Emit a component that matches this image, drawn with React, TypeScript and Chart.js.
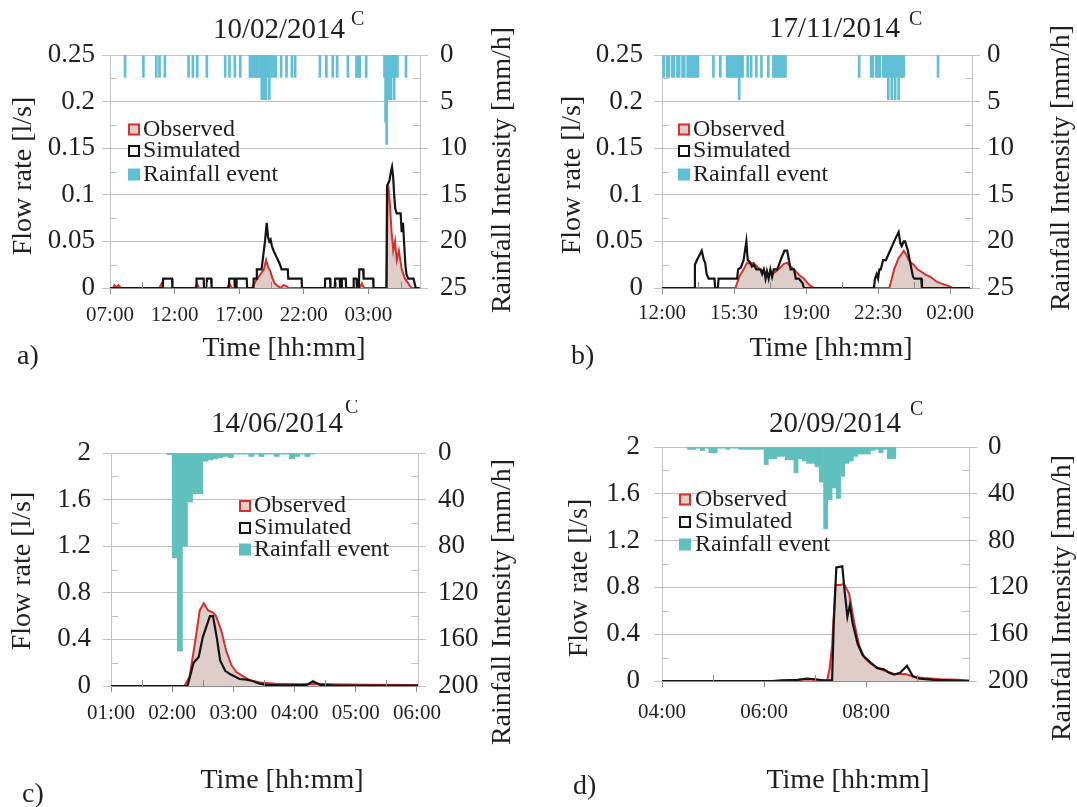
import React, { useEffect, useRef } from "react";
import { Chart, registerables } from "chart.js";

Chart.register(...registerables);

const SERIF = '"Liberation Serif", "Times New Roman", Times, serif';
Chart.defaults.font.family = SERIF;
Chart.defaults.color = "#231f20";

const INK = "#231f20";
const RED = "#d8312b";
const PINK = "#dfcdca";
const BLACK = "#141414";
const GRID = "#c3c3c3";
const AXIS = "#8c8c8c";

const TICK_FS = 21;
const YTICK_FS = 27;
const TITLE_FS = 29;
const SUP_FS = 20;
const AXT_FS = 28;
const LEG_FS = 24;
const LETTER_FS = 28;

const legendLabels = ["Observed", "Simulated", "Rainfall event"];
const xTitle = "Time [hh:mm]";
const yTitle = "Flow rate [l/s]";
const rTitle = "Rainfall Intensity [mm/h]";

// ---------------- a) 10/02/2014 ----------------
const aTicks = ["07:00", "12:00", "17:00", "22:00", "03:00"];
const aRainTimes = ["08:10","09:35","10:35","10:50","11:15","13:05","13:25","13:45","14:30","15:55","16:15","16:40","17:05","17:50","18:00","18:05","18:15","18:20","18:25","18:35","18:40","18:45","18:50","18:55","19:00","19:05","19:10","19:20","19:30","19:40","19:50","20:15","20:40","21:05","21:20","23:15","23:45","00:15","00:35","01:25","02:05","02:15","02:20","02:50","04:15","04:20","04:25","04:30","04:35","04:40","04:45","04:50","04:55","05:00","05:05","05:15","05:55"];
const aRainValues = [2.4,2.4,2.4,2.4,2.4,2.4,2.4,2.4,2.4,2.4,2.4,2.4,2.4,2.4,2.4,2.4,2.4,2.4,2.4,2.4,2.4,4.8,2.4,4.8,2.4,4.8,2.4,4.8,2.4,2.4,2.4,2.4,2.4,2.4,2.4,2.4,2.4,2.4,2.4,2.4,2.4,2.4,2.4,2.4,2.4,7.2,9.6,4.8,4.8,2.4,4.8,2.4,2.4,4.8,2.4,2.4,2.4];
const aObsTimes = ["07:00","07:15","07:20","07:30","07:40","07:50","10:50","11:00","11:10","13:35","13:45","13:55","16:05","16:15","16:25","18:00","18:10","18:25","18:40","18:55","19:05","19:15","19:25","19:35","19:45","20:00","20:15","20:25","20:40","20:50","02:20","02:30","02:40","04:25","04:29","04:33","04:40","04:48","04:56","05:04","05:12","05:22","05:35","05:50","06:06","06:21","06:58"];
const aObsValues = [0,0,0.003,0.001,0.003,0,0,0.005,0,0,0.004,0,0,0.005,0,0,0.005,0.01,0.015,0.02,0.03,0.022,0.018,0.01,0.005,0.002,0,0.003,0.002,0,0,0.005,0,0,0.1,0.11,0.09,0.06,0.04,0.05,0.03,0.04,0.02,0.01,0.005,0,0];
const aSimTimes = ["07:00","11:05","11:07","11:48","11:50","13:40","13:42","14:15","14:17","14:28","14:30","14:50","14:52","16:12","16:14","16:38","16:40","16:46","16:48","17:35","17:37","18:05","18:07","18:20","18:22","18:44","18:52","19:00","19:08","19:14","19:20","19:26","19:32","19:40","19:50","20:00","20:10","20:17","20:46","20:48","21:50","21:52","23:38","23:40","00:02","00:04","00:24","00:26","00:47","00:49","00:55","00:57","01:15","01:17","01:50","01:52","02:05","02:07","02:16","02:18","02:36","02:38","03:22","03:24","04:24","04:27","04:38","04:45","04:50","04:55","05:00","05:05","05:12","05:30","05:35","05:41","05:47","05:52","05:57","06:05","06:30","06:40","06:58"];
const aSimValues = [0,0,0.01,0.01,0,0,0.01,0.01,0,0,0.01,0.01,0,0,0.01,0.01,0,0,0.01,0.01,0,0,0.01,0.01,0.02,0.02,0.035,0.05,0.07,0.055,0.05,0.052,0.045,0.04,0.035,0.03,0.025,0.02,0.02,0.01,0.01,0,0,0.01,0.01,0,0,0.01,0.01,0,0,0.01,0.01,0,0,0.01,0.01,0,0,0.02,0.02,0.01,0.01,0,0,0.11,0.115,0.125,0.13,0.12,0.1,0.085,0.08,0.08,0.06,0.07,0.045,0.025,0.015,0.01,0.01,0,0];

// ---------------- b) 17/11/2014 ----------------
const bTicks = ["12:00", "15:30", "19:00", "22:30", "02:00"];
const bRainTimes = ["12:05","12:15","12:20","12:30","12:35","12:45","12:50","13:00","13:05","13:15","13:20","13:25","13:30","13:35","13:40","13:45","14:30","14:50","15:10","15:15","15:20","15:25","15:30","15:35","15:40","15:45","15:50","15:55","16:10","16:20","16:35","16:50","17:10","17:25","17:30","17:35","17:40","17:45","17:50","17:55","18:00","21:35","22:10","22:15","22:25","22:30","22:35","22:45","22:50","22:55","23:00","23:05","23:10","23:15","23:20","23:25","23:30","23:35","23:40","23:45","01:25"];
const bRainValues = [2.4,2.4,2.4,2.4,2.4,2.4,2.4,2.4,2.4,2.4,2.4,2.4,2.4,2.4,2.4,2.4,2.4,2.4,2.4,2.4,2.4,2.4,2.4,2.4,2.4,4.8,2.4,2.4,2.4,2.4,2.4,2.4,2.4,2.4,2.4,2.4,2.4,2.4,2.4,2.4,2.4,2.4,2.4,2.4,2.4,2.4,2.4,2.4,2.4,2.4,4.8,2.4,4.8,2.4,4.8,2.4,4.8,2.4,2.4,2.4,2.4];
const bObsTimes = ["12:00","15:34","15:45","15:58","16:08","16:18","16:27","16:40","16:55","17:10","17:26","17:40","17:55","18:05","18:15","18:25","18:40","18:54","19:05","19:14","19:24","23:03","23:10","23:17","23:30","23:45","23:52","23:59","00:07","00:14","00:25","00:34","00:50","01:03","01:20","01:33","01:57","02:07","02:58"];
const bObsValues = [0,0,0.012,0.02,0.027,0.026,0.027,0.022,0.018,0.015,0.016,0.02,0.026,0.027,0.023,0.02,0.014,0.01,0.005,0.002,0,0,0.01,0.02,0.032,0.04,0.036,0.03,0.027,0.025,0.02,0.018,0.014,0.012,0.007,0.005,0.002,0,0];
const bSimTimes = ["12:00","13:34","13:36","13:42","13:56","14:02","14:06","14:10","14:16","14:33","14:35","14:43","14:45","15:39","15:42","15:50","15:58","16:06","16:10","16:16","16:22","16:27","16:35","16:47","16:52","16:57","17:02","17:06","17:11","17:16","17:21","17:26","17:36","17:46","17:57","18:05","18:10","18:15","18:25","18:30","18:39","18:50","18:54","22:18","22:21","22:26","22:30","22:34","22:38","22:45","22:53","23:05","23:17","23:30","23:35","23:39","23:45","23:49","23:57","00:06","00:12","00:16","00:36","00:38","02:58"];
const bSimValues = [0,0,0.025,0.03,0.04,0.03,0.027,0.015,0.01,0.01,0,0,0.01,0.01,0.02,0.022,0.03,0.05,0.03,0.028,0.023,0.025,0.02,0.02,0.015,0.02,0.01,0.018,0.01,0.02,0.012,0.02,0.02,0.03,0.04,0.04,0.03,0.02,0.02,0.01,0.01,0.005,0,0,0.01,0.015,0.01,0.02,0.02,0.03,0.03,0.04,0.05,0.06,0.048,0.045,0.05,0.05,0.04,0.023,0.012,0.01,0.01,0,0];

// ---------------- c) 14/06/2014 ----------------
const cTicks = ["01:00", "02:00", "03:00", "04:00", "05:00", "06:00"];
const cRainTimes = ["01:55","02:00","02:05","02:10","02:15","02:20","02:25","02:30","02:35","02:40","02:45","02:50","02:55","03:00","03:05","03:10","03:15","03:20","03:25","03:30","03:35","03:40","03:45","03:50","03:55","04:00","04:05","04:10","04:15"];
const cRainValues = [1.5,90,170,80,42,35,35,7,6,5,4,3,4,1,1,1,3,1,3,1,1,3,1,1,5,3,1,3,1];
const cObsTimes = ["01:00","02:12","02:17","02:22","02:27","02:31","02:35","02:40","02:43","02:48","02:53","02:58","03:03","03:10","03:16","03:26","03:42","04:05","04:21","04:37","05:11","06:01"];
const cObsValues = [0,0,0.08,0.35,0.65,0.71,0.65,0.63,0.6,0.48,0.3,0.18,0.12,0.08,0.05,0.03,0.02,0.015,0.02,0.015,0.01,0.008];
const cSimTimes = ["01:00","02:15","02:21","02:26","02:30","02:37","02:40","02:44","02:47","02:52","02:57","03:06","03:13","03:18","03:26","03:32","03:52","04:12","04:18","04:25","04:37","06:01"];
const cSimValues = [0,0,0.2,0.25,0.42,0.6,0.6,0.4,0.22,0.13,0.1,0.06,0.055,0.045,0.02,0.01,0.005,0.01,0.04,0.01,0.005,0.003];

// ---------------- d) 20/09/2014 ----------------
const dTicks = ["04:00", "06:00", "08:00"];
const dRainTimes = ["04:30","04:35","04:40","04:45","04:50","04:55","05:00","05:05","05:10","05:15","05:20","05:25","05:30","05:35","05:40","05:45","05:50","05:55","06:00","06:05","06:10","06:15","06:20","06:25","06:30","06:35","06:40","06:45","06:50","06:55","07:00","07:05","07:10","07:15","07:20","07:25","07:30","07:35","07:40","07:45","07:50","07:55","08:00","08:05","08:10","08:15","08:20","08:25","08:30"];
const dRainValues = [2,2,1,3,1,5,5,1,1,2,1,1,2,2,2,2,2,2,15,10,10,8,8,11,11,22,10,12,14,14,17,30,70,45,35,44,25,14,12,8,6,6,6,3,2,5,2,10,10];
const dObsTimes = ["04:00","06:30","06:40","06:50","07:00","07:10","07:14","07:17","07:20","07:24","07:30","07:34","07:40","07:46","07:52","07:58","08:05","08:17","08:33","08:46","08:58","09:08","09:28","09:48","10:01"];
const dObsValues = [0,0,0.01,0.015,0.01,0.005,0,0.1,0.3,0.82,0.82,0.83,0.75,0.5,0.3,0.2,0.15,0.1,0.06,0.06,0.035,0.025,0.015,0.01,0.005];
const dSimTimes = ["04:00","06:10","06:20","06:40","06:50","07:00","07:10","07:20","07:22","07:25","07:32","07:35","07:38","07:41","07:44","07:50","07:56","08:05","08:13","08:21","08:27","08:33","08:40","08:48","08:55","09:03","09:20","09:45","10:01"];
const dSimValues = [0,0,0.005,0.01,0.02,0.015,0.005,0.005,0.5,0.97,0.98,0.75,0.55,0.65,0.5,0.32,0.22,0.16,0.11,0.1,0.07,0.055,0.07,0.13,0.04,0.02,0.01,0.004,0];

type PanelSpec = {
  id: string;
  box: [number, number, number, number];
  area: [number, number, number, number];
  xMin: number; xMax: number;
  ticks: string[];
  yMax: number; yStep: number; rMax: number; rStep: number;
  rainT: string[]; rainV: number[]; rainColor: string; barThickness?: number; binOffset: number;
  obsT: string[]; obsV: number[]; simT: string[]; simV: number[];
  title: string; sup: string; titleX: number; titleBase: number; supGap: number; supBase: number;
  tickY: number; yPad: number; rPad: number;
  xTitlePos: [number, number]; yTitlePos: [number, number]; rTitlePos: [number, number];
  letter: string; letterPos: [number, number];
  legendBoxX: number; legendTextX: number; legendRows: number[];
};

const PANELS: PanelSpec[] = [
  {
    id: "a", box: [0, 0, 538, 400], area: [110, 55, 420, 288],
    xMin: 420, xMax: 1860, ticks: aTicks,
    yMax: 0.25, yStep: 0.05, rMax: 25, rStep: 5,
    rainT: aRainTimes, rainV: aRainValues, rainColor: "#5fbfd6", barThickness: 2, binOffset: 0,
    obsT: aObsTimes, obsV: aObsValues, simT: aSimTimes, simV: aSimValues,
    title: "10/02/2014", sup: "C", titleX: 213, titleBase: 38, supGap: 6, supBase: 25,
    tickY: 316, yPad: 7, rPad: 12,
    xTitlePos: [284, 349], yTitlePos: [24, 176], rTitlePos: [503, 170],
    letter: "a)", letterPos: [17, 357],
    legendBoxX: 128, legendTextX: 143, legendRows: [128.5, 150, 173.5],
  },
  {
    id: "b", box: [538, 0, 539, 400], area: [662, 55, 972, 288],
    xMin: 720, xMax: 1624, ticks: bTicks,
    yMax: 0.25, yStep: 0.05, rMax: 25, rStep: 5,
    rainT: bRainTimes, rainV: bRainValues, rainColor: "#5fbfd6", barThickness: 2, binOffset: 0,
    obsT: bObsTimes, obsV: bObsValues, simT: bSimTimes, simV: bSimValues,
    title: "17/11/2014", sup: "C", titleX: 769, titleBase: 37, supGap: 9, supBase: 25,
    tickY: 314, yPad: 11, rPad: 7,
    xTitlePos: [831, 349], yTitlePos: [573, 175], rTitlePos: [1062, 168],
    letter: "b)", letterPos: [571, 357],
    legendBoxX: 678, legendTextX: 693, legendRows: [128.5, 150, 173.5],
  },
  {
    id: "c", box: [0, 400, 538, 407], area: [111, 453, 418, 686],
    xMin: 60, xMax: 361, ticks: cTicks,
    yMax: 2, yStep: 0.4, rMax: 200, rStep: 40,
    rainT: cRainTimes, rainV: cRainValues, rainColor: "#60c0be", binOffset: 2.5,
    obsT: cObsTimes, obsV: cObsValues, simT: cSimTimes, simV: cSimValues,
    title: "14/06/2014", sup: "C", titleX: 211, titleBase: 432, supGap: 2, supBase: 413,
    tickY: 714, yPad: 12, rPad: 12,
    xTitlePos: [282, 781], yTitlePos: [23, 571], rTitlePos: [503, 602],
    letter: "c)", letterPos: [22, 795],
    legendBoxX: 239, legendTextX: 254, legendRows: [505, 527, 548.5],
  },
  {
    id: "d", box: [538, 400, 539, 407], area: [662, 447, 969, 681],
    xMin: 240, xMax: 601, ticks: dTicks,
    yMax: 2, yStep: 0.4, rMax: 200, rStep: 40,
    rainT: dRainTimes, rainV: dRainValues, rainColor: "#60c0be", binOffset: 2.5,
    obsT: dObsTimes, obsV: dObsValues, simT: dSimTimes, simV: dSimValues,
    title: "20/09/2014", sup: "C", titleX: 769, titleBase: 432, supGap: 9, supBase: 415,
    tickY: 713, yPad: 14, rPad: 11,
    xTitlePos: [848, 781], yTitlePos: [580, 578], rTitlePos: [1063, 598],
    letter: "d)", letterPos: [573, 787],
    legendBoxX: 679, legendTextX: 695, legendRows: [498.5, 521, 543.5],
  },
];

function toMin(s: string, start: number): number {
  const [h, m] = s.split(":").map(Number);
  let v = h * 60 + m;
  if (v < start) v += 1440;
  return v;
}

function rotText(ctx: CanvasRenderingContext2D, text: string, x: number, y: number) {
  ctx.save();
  ctx.translate(x, y);
  ctx.rotate(-Math.PI / 2);
  ctx.textAlign = "center";
  ctx.textBaseline = "middle";
  ctx.fillText(text, 0, 0);
  ctx.restore();
}

function decorPlugin(p: PanelSpec) {
  return {
    id: "decor_" + p.id,
    afterDraw(chart: any) {
      const ctx: CanvasRenderingContext2D = chart.ctx;
      const { left, right, bottom } = chart.chartArea;
      const ox = p.box[0];
      const oy = p.box[1];
      const ys = chart.scales.y;
      const xs = chart.scales.x;
      ctx.save();
      ctx.lineWidth = 1;
      ctx.strokeStyle = GRID;
      ctx.beginPath();
      for (let v = p.yStep / 2; v < p.yMax; v += p.yStep) {
        const py = Math.round(ys.getPixelForValue(v)) + 0.5;
        ctx.moveTo(left, py);
        ctx.lineTo(left + 7, py);
        ctx.moveTo(right - 7, py);
        ctx.lineTo(right, py);
      }
      ctx.stroke();
      const tv = p.ticks.map((t) => toMin(t, p.xMin));
      const half = (tv[1] - tv[0]) / 2;
      ctx.strokeStyle = AXIS;
      ctx.beginPath();
      for (let v = tv[0] + half; v < p.xMax; v += 2 * half) {
        const px = Math.round(xs.getPixelForValue(v)) + 0.5;
        ctx.moveTo(px, bottom);
        ctx.lineTo(px, bottom - 6);
      }
      ctx.stroke();

      ctx.font = `${LEG_FS}px ${SERIF}`;
      ctx.textAlign = "left";
      ctx.textBaseline = "middle";
      const s = 12;
      p.legendRows.forEach((cy, i) => {
        const x0 = p.legendBoxX - ox;
        const y0 = cy - oy - s / 2 + 1;
        if (i === 0) {
          ctx.fillStyle = PINK;
          ctx.fillRect(x0, y0, s, s);
          ctx.strokeStyle = RED;
          ctx.lineWidth = 2;
          ctx.strokeRect(x0 + 1, y0 + 1, s - 2, s - 2);
        } else if (i === 1) {
          ctx.fillStyle = "#ffffff";
          ctx.fillRect(x0, y0, s, s);
          ctx.strokeStyle = BLACK;
          ctx.lineWidth = 2;
          ctx.strokeRect(x0 + 1, y0 + 1, s - 2, s - 2);
        } else {
          ctx.fillStyle = p.rainColor;
          ctx.fillRect(x0, y0, s, s);
        }
        ctx.fillStyle = INK;
        ctx.fillText(legendLabels[i], p.legendTextX - ox, cy - oy + 1);
      });

      ctx.fillStyle = INK;
      ctx.textAlign = "left";
      ctx.textBaseline = "alphabetic";
      ctx.font = `${TITLE_FS}px ${SERIF}`;
      ctx.fillText(p.title, p.titleX - ox, p.titleBase - oy);
      const w = ctx.measureText(p.title).width;
      ctx.font = `${SUP_FS}px ${SERIF}`;
      ctx.fillText(p.sup, p.titleX - ox + w + p.supGap, p.supBase - oy);

      ctx.font = `${AXT_FS}px ${SERIF}`;
      ctx.textAlign = "center";
      ctx.textBaseline = "middle";
      ctx.fillText(xTitle, p.xTitlePos[0] - ox, p.xTitlePos[1] - oy);
      rotText(ctx, yTitle, p.yTitlePos[0] - ox, p.yTitlePos[1] - oy);
      rotText(ctx, rTitle, p.rTitlePos[0] - ox, p.rTitlePos[1] - oy);

      ctx.font = `${LETTER_FS}px ${SERIF}`;
      ctx.textAlign = "left";
      ctx.textBaseline = "middle";
      ctx.fillText(p.letter, p.letterPos[0] - ox, p.letterPos[1] - oy);
      ctx.restore();
    },
  };
}

function makeConfig(p: PanelSpec): any {
  const [L, T, R, B] = p.area;
  const [bx, by, bw, bh] = p.box;
  const pts = (ts: string[], vs: number[], off = 0) =>
    ts.map((t, i) => ({ x: toMin(t, p.xMin) + off, y: vs[i] }));
  const tickVals = p.ticks.map((t) => toMin(t, p.xMin));
  const xPad = Math.round(p.tickY - B - 6 - (TICK_FS * 1.2) / 2);
  const rainDs: any = {
    type: "bar",
    label: legendLabels[2],
    data: pts(p.rainT, p.rainV, p.binOffset),
    backgroundColor: p.rainColor,
    borderWidth: 0,
    barPercentage: 1,
    categoryPercentage: 1,
    xAxisID: "x",
    yAxisID: "r",
    order: 2,
  };
  if (p.barThickness) rainDs.barThickness = p.barThickness;
  return {
    type: "line",
    data: {
      datasets: [
        {
          type: "line", label: legendLabels[1], data: pts(p.simT, p.simV),
          borderColor: BLACK, borderWidth: 2.2, pointRadius: 0, fill: false, tension: 0,
          xAxisID: "x", yAxisID: "y", order: 0,
        },
        {
          type: "line", label: legendLabels[0], data: pts(p.obsT, p.obsV),
          borderColor: RED, borderWidth: 2, backgroundColor: PINK, pointRadius: 0, fill: "origin", tension: 0,
          xAxisID: "x", yAxisID: "y", order: 1,
        },
        rainDs,
      ],
    },
    options: {
      responsive: false,
      animation: false,
      devicePixelRatio: 1,
      events: [],
      layout: { padding: { top: T - by, left: 0, right: 0, bottom: 0 } },
      plugins: { legend: { display: false }, tooltip: { enabled: false }, title: { display: false } },
      scales: {
        x: {
          type: "linear", position: "bottom", min: p.xMin, max: p.xMax, offset: false,
          afterBuildTicks: (s: any) => { s.ticks = tickVals.map((v) => ({ value: v })); },
          afterFit: (s: any) => { s.height = by + bh - B; },
          ticks: {
            autoSkip: false, maxRotation: 0, minRotation: 0, padding: xPad,
            font: { size: TICK_FS, family: SERIF }, color: INK,
            callback: (_v: any, i: number) => p.ticks[i],
          },
          grid: { drawOnChartArea: false, drawTicks: true, tickLength: 6, color: AXIS, offset: false },
          border: { display: true, color: AXIS, width: 1 },
        },
        y: {
          type: "linear", position: "left", min: 0, max: p.yMax,
          afterFit: (s: any) => { s.width = L - bx; },
          ticks: {
            stepSize: p.yStep, padding: p.yPad, font: { size: YTICK_FS, family: SERIF }, color: INK,
            callback: (v: any) => String(parseFloat(Number(v).toFixed(3))),
          },
          grid: { color: GRID, tickLength: 8, drawTicks: true },
          border: { display: true, color: GRID },
        },
        r: {
          type: "linear", position: "right", min: 0, max: p.rMax, reverse: true,
          afterFit: (s: any) => { s.width = bx + bw - R; },
          ticks: {
            stepSize: p.rStep, padding: p.rPad, font: { size: YTICK_FS, family: SERIF }, color: INK,
            callback: (v: any) => String(parseFloat(Number(v).toFixed(2))),
          },
          grid: { drawOnChartArea: false, color: GRID, tickLength: 8, drawTicks: true },
          border: { display: true, color: GRID },
        },
      },
    },
    plugins: [decorPlugin(p)],
  };
}

export default function App() {
  const r0 = useRef<HTMLCanvasElement>(null);
  const r1 = useRef<HTMLCanvasElement>(null);
  const r2 = useRef<HTMLCanvasElement>(null);
  const r3 = useRef<HTMLCanvasElement>(null);
  const refs = [r0, r1, r2, r3];

  useEffect(() => {
    const charts: Chart[] = [];
    PANELS.forEach((p, i) => {
      const el = refs[i].current;
      if (el) charts.push(new Chart(el, makeConfig(p)));
    });
    return () => charts.forEach((c) => c.destroy());
  }, []);

  return (
    <div style={{ position: "absolute", left: 0, top: 0, width: 1077, height: 807, background: "#ffffff", overflow: "hidden" }}>
      {PANELS.map((p, i) => (
        <canvas
          key={p.id}
          ref={refs[i]}
          width={p.box[2]}
          height={p.box[3]}
          style={{ position: "absolute", left: p.box[0], top: p.box[1], width: p.box[2], height: p.box[3] }}
        />
      ))}
    </div>
  );
}
